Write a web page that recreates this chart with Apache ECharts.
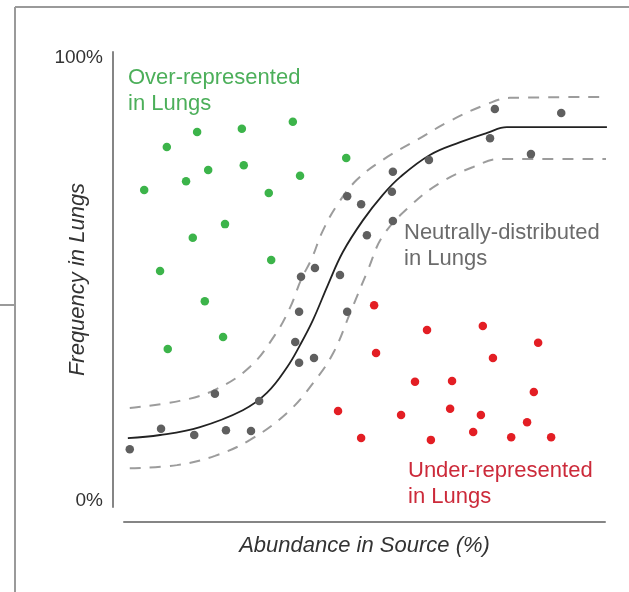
<!DOCTYPE html>
<html>
<head>
<meta charset="utf-8">
<style>
  html, body { margin: 0; padding: 0; background: #ffffff; }
  #chart { width: 629px; height: 592px; }
</style>
<script src="https://cdn.jsdelivr.net/npm/echarts@6/dist/echarts.min.js"></script>
</head>
<body>
<div id="chart"></div>
<script>
// ---- data (x: abundance 0-100, y: frequency 0-100) ----
const overRepresented = [
  [35.1, 85.6], [24.5, 84.0], [15.2, 83.3], [8.9, 79.9], [24.9, 75.8],
  [17.5, 74.7], [36.6, 73.4], [12.9, 72.2], [4.2, 70.2], [30.1, 69.5],
  [46.2, 77.4], [21.0, 62.5], [14.3, 59.4], [30.6, 54.4], [7.5, 51.9],
  [16.8, 45.1], [20.6, 37.0], [9.1, 34.3]
];
const neutral = [
  [77.1, 88.5], [90.9, 87.6], [76.1, 81.9], [84.6, 78.3], [63.4, 77.0],
  [55.9, 74.3], [55.7, 69.8], [46.4, 68.8], [49.3, 67.0], [55.9, 63.2],
  [50.5, 60.0], [39.7, 52.6], [44.9, 51.0], [36.8, 50.6], [36.4, 42.7],
  [46.4, 42.7], [35.6, 35.9], [39.5, 32.3], [36.4, 31.2], [18.9, 24.2],
  [28.1, 22.6], [7.7, 16.3], [14.6, 14.9], [21.2, 16.0], [26.4, 15.8],
  [1.2, 11.7]
];
const underRepresented = [
  [52.0, 44.2], [63.0, 38.6], [74.6, 39.5], [86.1, 35.7], [52.4, 33.4],
  [76.7, 32.3], [60.5, 26.9], [68.2, 27.1], [85.2, 24.6], [44.5, 20.3],
  [57.6, 19.4], [67.8, 20.8], [74.2, 19.4], [83.8, 17.8], [72.6, 15.6],
  [49.3, 14.2], [63.8, 13.8], [80.5, 14.4], [88.8, 14.4]
];
const fitCurve = [
  [0.8, 14.2], [7.5, 14.9], [15.8, 16.7], [24.7, 20.5], [29.7, 24.4],
  [33.9, 30.2], [36.6, 35.2], [39.3, 40.9], [42.4, 48.8], [45.5, 56.2],
  [49.7, 63.4], [53.8, 69.1], [57.4, 73.1], [63.6, 78.1], [69.9, 81.0],
  [75.5, 83.1], [79.6, 84.4], [100.4, 84.4]
];
const upperBound = [
  [1.2, 21.0], [11.6, 22.6], [18.9, 25.1], [26.2, 30.3], [31.4, 37.5],
  [34.5, 43.6], [36.8, 49.9], [39.1, 54.9], [41.2, 60.7], [44.3, 66.8],
  [48.4, 72.5], [53.8, 77.0], [60.9, 81.5], [67.8, 85.8], [75.5, 89.6],
  [80.2, 91.0], [101.0, 91.2]
];
const lowerBound = [
  [1.2, 7.4], [11.0, 8.1], [18.9, 10.2], [26.2, 13.8], [33.9, 19.9],
  [39.3, 26.6], [43.5, 33.4], [47.0, 42.4], [50.7, 52.1], [53.8, 59.8],
  [59.5, 66.6], [65.7, 71.8], [72.6, 75.4], [78.2, 77.2], [101.0, 77.2]
];
const yTickValues = [0, 100];
const yTickLabels = ['0%', '100%'];
const labelOver = 'Over-represented\nin Lungs';
const labelNeutral = 'Neutrally-distributed\nin Lungs';
const labelUnder = 'Under-represented\nin Lungs';

const FONT = '"Liberation Sans", Arial, Helvetica, sans-serif';
const chart = echarts.init(document.getElementById('chart'), null, { renderer: 'canvas' });

const option = {
  backgroundColor: '#ffffff',
  animation: false,
  grid: { left: 124, right: 24, top: 52, bottom: 85 },
  xAxis: {
    type: 'value', min: 0, max: 100, offset: 15,
    name: 'Abundance in Source (%)', nameLocation: 'middle', nameGap: 13, nameMoveOverlap: false,
    nameTextStyle: { fontFamily: FONT, fontSize: 22, fontStyle: 'italic', color: '#333333' },
    axisLine: { show: true, onZero: false, lineStyle: { color: '#858585', width: 2 } },
    axisTick: { show: false }, axisLabel: { show: false }, splitLine: { show: false }
  },
  yAxis: {
    type: 'value', min: -1.35, max: 101.35, offset: 11,
    name: 'Frequency in Lungs', nameLocation: 'middle', nameGap: 24, nameMoveOverlap: false,
    nameTextStyle: { fontFamily: FONT, fontSize: 22, fontStyle: 'italic', color: '#333333' },
    axisLine: { show: true, onZero: false, lineStyle: { color: '#858585', width: 2 } },
    axisTick: { show: false },
    axisLabel: {
      show: true, margin: 10, fontFamily: FONT, fontSize: 19, color: '#333333',
      customValues: yTickValues,
      formatter: function (v) { const i = yTickValues.indexOf(Math.round(v)); return i >= 0 ? yTickLabels[i] : ''; }
    },
    splitLine: { show: false }
  },
  series: [
    { type: 'line', data: upperBound, smooth: 0.4, symbol: 'none', clip: false, z: 1,
      lineStyle: { color: '#9c9c9c', width: 2, type: [11, 9] } },
    { type: 'line', data: lowerBound, smooth: 0.4, symbol: 'none', clip: false, z: 1,
      lineStyle: { color: '#9c9c9c', width: 2, type: [11, 9] } },
    { type: 'line', data: fitCurve, smooth: 0.4, symbol: 'none', clip: false, z: 2,
      lineStyle: { color: '#222222', width: 1.8 } },
    { type: 'scatter', data: overRepresented, symbolSize: 8.5, clip: false, z: 3,
      itemStyle: { color: '#3cb44a', opacity: 1 } },
    { type: 'scatter', data: neutral, symbolSize: 8.5, clip: false, z: 3,
      itemStyle: { color: '#5f5f5f', opacity: 1 } },
    { type: 'scatter', data: underRepresented, symbolSize: 8.5, clip: false, z: 3,
      itemStyle: { color: '#e31e24', opacity: 1 } }
  ],
  graphic: [
    { type: 'line', shape: { x1: 15, y1: 7, x2: 629, y2: 7 }, style: { stroke: '#9a9a9a', lineWidth: 2 } },
    { type: 'line', shape: { x1: 15, y1: 7, x2: 15, y2: 592 }, style: { stroke: '#9a9a9a', lineWidth: 2 } },
    { type: 'line', shape: { x1: 0, y1: 305, x2: 15, y2: 305 }, style: { stroke: '#9a9a9a', lineWidth: 2 } },
    { type: 'text', x: 128, y: 65, style: { text: labelOver, fill: '#4caf5a', fontFamily: FONT, fontSize: 22, lineHeight: 26, verticalAlign: 'top' } },
    { type: 'text', x: 404, y: 220, style: { text: labelNeutral, fill: '#6b6b6b', fontFamily: FONT, fontSize: 22, lineHeight: 26, verticalAlign: 'top' } },
    { type: 'text', x: 408, y: 458, style: { text: labelUnder, fill: '#cc2a3a', fontFamily: FONT, fontSize: 22, lineHeight: 26, verticalAlign: 'top' } }
  ]
};
chart.setOption(option);
</script>
</body>
</html>
